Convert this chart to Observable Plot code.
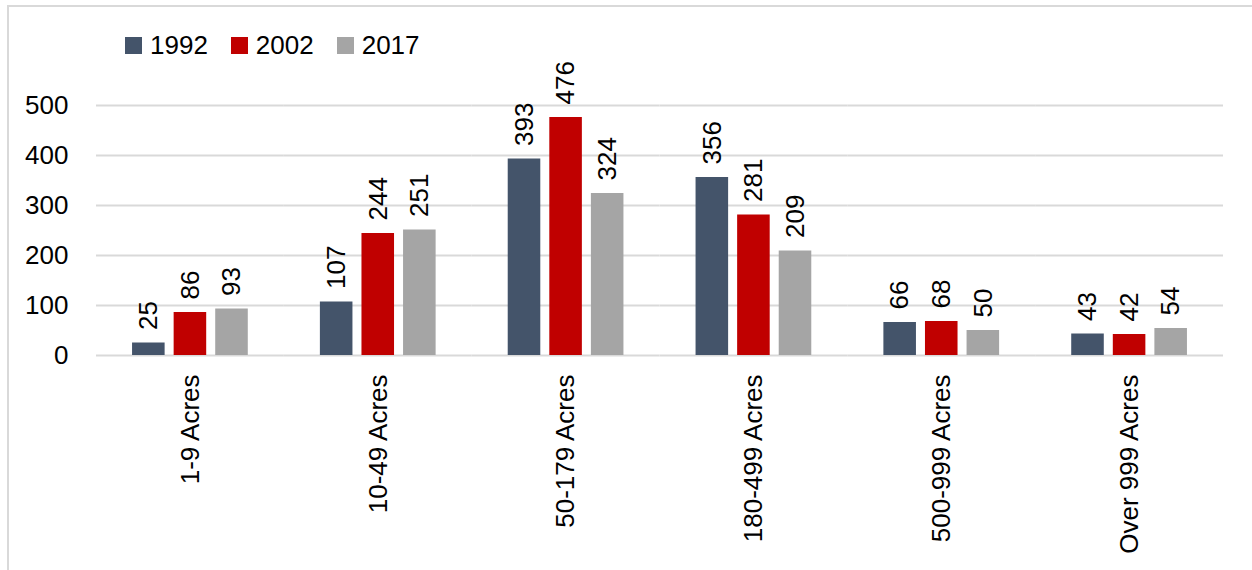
<!DOCTYPE html>
<html>
<head>
<meta charset="utf-8">
<script src="https://cdn.jsdelivr.net/npm/d3@7"></script>
<script src="https://cdn.jsdelivr.net/npm/@observablehq/plot@0.6"></script>
<style>
  html, body { margin: 0; padding: 0; background: #fff; }
  #wrap { position: relative; width: 1252px; height: 570px; overflow: hidden; font-family: "Liberation Sans", Arial, sans-serif; }
  #frame { position: absolute; left: 7px; top: 5px; width: 1300px; height: 600px; border-left: 2px solid #d9d9d9; border-top: 2px solid #d9d9d9; }
  #legend { position: absolute; left: 125px; top: 30px; display: flex; align-items: center; font-size: 26px; color: #000; }
  #legend .item { display: flex; align-items: center; margin-right: 23px; }
  #legend .sw { width: 17px; height: 17px; margin-right: 8px; }
  #chart { position: absolute; left: 0; top: 0; }
</style>
</head>
<body>
<div id="wrap">
  <div id="frame"></div>
  <div id="chart"></div>
  <div id="legend"></div>
</div>
<script>
const categories = ["1-9 Acres", "10-49 Acres", "50-179 Acres", "180-499 Acres", "500-999 Acres", "Over 999 Acres"];
const years = ["1992", "2002", "2017"];
const values1992 = [25, 107, 393, 356, 66, 43];
const values2002 = [86, 244, 476, 281, 68, 42];
const values2017 = [93, 251, 324, 209, 50, 54];
const colors = ["#44546A", "#C00000", "#A5A5A5"];
const yTicks = [0, 100, 200, 300, 400, 500];

const series = [values1992, values2002, values2017];
const data = categories.flatMap((c, i) => years.map((y, j) => ({category: c, year: y, value: series[j][i]})));

const chart = Plot.plot({
  width: 1252,
  height: 570,
  marginLeft: 96,
  marginRight: 29,
  marginTop: 105,
  marginBottom: 215,
  style: {fontFamily: "'Liberation Sans', Arial, sans-serif", fontSize: "26px", color: "#000", background: "transparent", overflow: "visible"},
  fx: {domain: categories, padding: 0, label: null, round: false},
  x: {domain: years, paddingInner: 0.217, paddingOuter: 0.867, axis: null, round: false},
  y: {domain: [0, 500], label: null},
  color: {domain: years, range: colors},
  marks: [
    Plot.ruleY(yTicks, {stroke: "#d9d9d9", strokeWidth: 2}),
    Plot.barY(data, {fx: "category", x: "year", y: "value", fill: "year"}),
    Plot.text(data, {fx: "category", x: "year", y: "value", text: d => String(d.value), rotate: -90, textAnchor: "start", dy: -13, fontSize: 26, fill: "#000"}),
    Plot.axisY({ticks: yTicks, tickSize: 0, tickPadding: 28, fontSize: 26, label: null}),
    Plot.axisFx({anchor: "bottom", tickRotate: -90, tickSize: 0, tickPadding: 19, fontSize: 26, label: null})
  ]
});
document.getElementById("chart").appendChild(chart);

const legend = document.getElementById("legend");
years.forEach((y, i) => {
  const item = document.createElement("div");
  item.className = "item";
  const sw = document.createElement("span");
  sw.className = "sw";
  sw.style.background = colors[i];
  const t = document.createElement("span");
  t.textContent = y;
  item.appendChild(sw);
  item.appendChild(t);
  legend.appendChild(item);
});
</script>
</body>
</html>
